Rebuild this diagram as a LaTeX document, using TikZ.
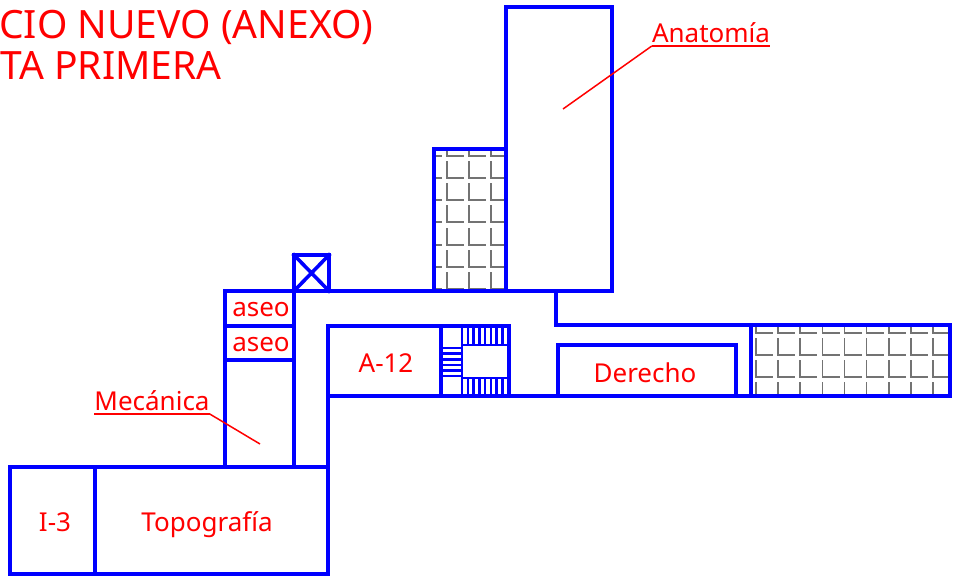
\documentclass[tikz,border=0pt]{standalone}
\usepackage{fontspec}
\setmainfont{Noto Sans}
\tikzset{
  wall/.style={draw=blue,line width=3.6pt,line cap=rect,line join=miter},
  thin wall/.style={draw=blue,line width=2.6pt},
  tile/.style={draw=black!55,line width=1.1pt},
  leader/.style={draw=red,line width=1.5pt},
  lab/.style={text=red,inner sep=0pt,anchor=base,font=\fontsize{26}{26}\selectfont},
  titlelab/.style={text=red,inner sep=0pt,anchor=base west,font=\fontsize{39}{39}\selectfont},
}
\begin{document}
\begin{tikzpicture}[x=1pt,y=-1pt]
\useasboundingbox (0,0) rectangle (957,579);
% tiles, upper room
\begin{scope}
\clip (436,151) rectangle (504,289);
\foreach \yy in {156,178,200,222,245,267,289}{
  \foreach \xx in {425,447,469,491}{
    \draw[tile] (\xx,\yy-17) -- (\xx,\yy) -- (\xx+17,\yy);
  }
}
\end{scope}
% tiles, right room
\begin{scope}
\clip (753,327) rectangle (948,394);
\foreach \yy in {333,355,377,399}{
  \foreach \xx in {756,778,800,822.5,844.5,866.5,889,911,933}{
    \draw[tile] (\xx,\yy-17) -- (\xx,\yy) -- (\xx+17,\yy);
  }
}
\end{scope}
% walls
\draw[wall] (506,7) rectangle (612,291);
\draw[wall] (434,149) rectangle (506,291);
\draw[wall] (225,291) -- (612,291);
\draw[wall] (294,255) rectangle (329,291);
\draw[wall] (294,255) -- (329,291) (329,255) -- (294,291);
\draw[wall] (225,291) -- (225,467);
\draw[wall] (294,291) -- (294,467);
\draw[wall] (225,326) -- (294,326) (225,360) -- (294,360);
\draw[wall] (10,467) rectangle (328,574);
\draw[wall] (95,467) -- (95,574);
\draw[wall] (328,326) -- (328,467);
\draw[wall] (328,326) -- (509,326) -- (509,396);
\draw[wall] (441,326) -- (441,396);
\draw[wall] (328,396) -- (950,396) -- (950,325) -- (556,325) -- (556,291);
\draw[wall] (558,396) -- (558,345) -- (736,345) -- (736,396);
\draw[wall] (751,325) -- (751,396);
% stairs
\draw[thin wall] (462,345) rectangle (509,378);
\foreach \xx in {462,467.8,473.5,479.2,485,490.8,496.5,502.2}{
  \draw[thin wall] (\xx,326) -- (\xx,345) (\xx,378) -- (\xx,396);
}
\foreach \yy in {348,353.6,359.2,364.8,370.4,376}{
  \draw[thin wall] (441,\yy) -- (462,\yy);
}
% labels
\node[titlelab] (t1) at (-1,38) {CIO NUEVO (ANEXO)};
\node[titlelab] (t2) at (0,79) {TA PRIMERA};
\node[lab] (aseoa) at (261,316) {aseo};
\node[lab] (aseob) at (261,351) {aseo};
\node[lab] (a12) at (386,372) {A-12};
\node[lab] (der) at (645,382) {Derecho};
\node[lab] (i3) at (55,531) {I-3};
\node[lab] (topo) at (207,531) {Topografía};
\node[lab] (anat) at (711,42) {Anatomía};
\node[lab] (meca) at (152,410) {Mecánica};
\coordinate (anatend) at (563,109);
\coordinate (mecaend) at (260,444);
\draw[leader] (anat.base west |- 0,46) coordinate (au) -- (anat.base east |- 0,46);
\draw[leader] (au) -- (anatend);
\draw[leader] (meca.base west |- 0,414) -- (meca.base east |- 0,414) coordinate (mu);
\draw[leader] (mu) -- (mecaend);
\end{tikzpicture}
\end{document}
